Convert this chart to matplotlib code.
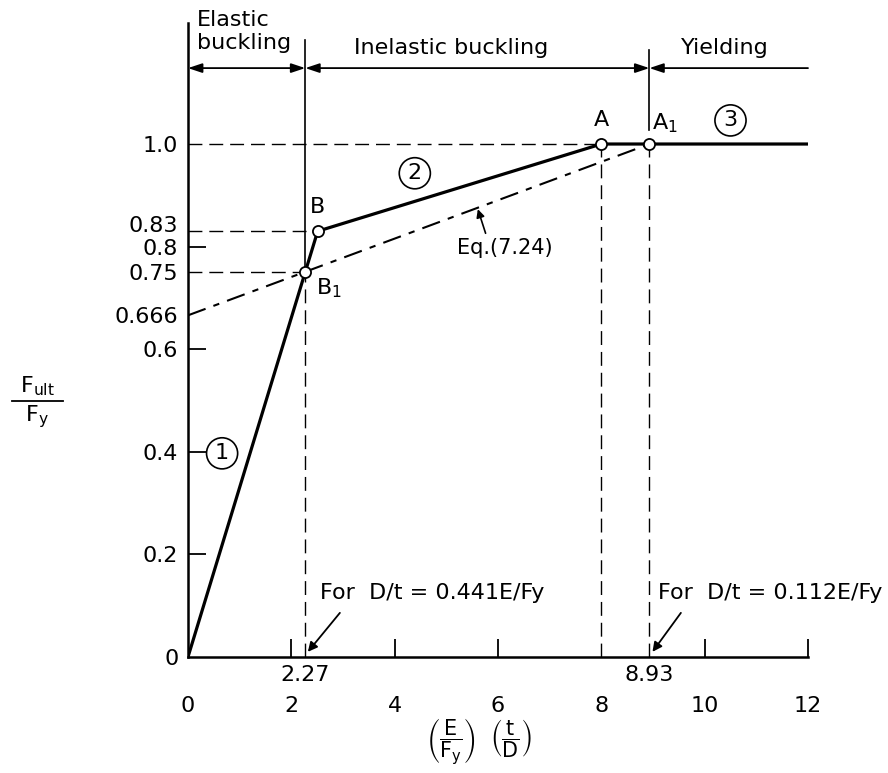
import matplotlib
matplotlib.use("Agg")
import matplotlib.pyplot as plt
import matplotlib.transforms as mtransforms

plt.rcParams["font.family"] = ["DejaVu Sans"]
plt.rcParams["mathtext.fontset"] = "dejavusans"

# ---------------------------------------------
# data
# ---------------------------------------------
curve_x = [0.0, 2.51, 8.0, 12.0]
curve_y = [0.0, 0.83, 1.0, 1.0]

eq_x = [0.0, 8.93]
eq_y = [0.666, 1.0]

point_names = ["B$_1$", "B", "A", "A$_1$"]
point_x = [2.27, 2.51, 8.0, 8.93]
point_y = [0.75, 0.83, 1.0, 1.0]

region_edges = [0.0, 2.27, 8.93, 12.0]
region_names = ["Elastic\nbuckling", "Inelastic buckling", "Yielding"]

ytick_vals = [0, 0.2, 0.4, 0.6, 0.666, 0.75, 0.8, 0.83, 1.0]
ytick_text = ["0", "0.2", "0.4", "0.6", "0.666", "0.75", "0.8", "0.83", "1.0"]
xtick_vals = [0, 2, 4, 6, 8, 10, 12]
inner_xticks = [2, 4, 6, 10, 12]
inner_yticks = [0.2, 0.4, 0.6, 0.8]
limit_x = [2.27, 8.93]
limit_text = ["2.27", "8.93"]
limit_notes = ["For  D/t = 0.441E/Fy", "For  D/t = 0.112E/Fy"]

FS = 16
dash = (0, (10, 5))

fig = plt.figure(figsize=(8.88, 7.73), dpi=100)
ax = fig.add_axes([0.2117, 0.1501, 0.6982, 0.8202])
ax.set_xlim(0, 12)
ax.set_ylim(0, 1.236)

for side in ["top", "right"]:
    ax.spines[side].set_visible(False)
for side in ["left", "bottom"]:
    ax.spines[side].set_linewidth(1.8)

# ticks
ax.xaxis.remove_overlapping_locs = False
ax.yaxis.remove_overlapping_locs = False
ax.set_yticks(ytick_vals)
ax.set_yticklabels(ytick_text, fontsize=FS)
ax.set_yticks(inner_yticks, minor=True)
ax.set_xticks(xtick_vals)
ax.set_xticklabels([str(v) for v in xtick_vals], fontsize=FS)
ax.set_xticks(inner_xticks, minor=True)
ax.tick_params(axis="y", which="major", length=0, pad=7)
ax.tick_params(axis="x", which="major", length=0, pad=28)
ax.tick_params(which="minor", direction="in", length=13, width=1.3)

# 0.83 sits just above 0.8, nudge it up a little
lbl = ax.get_yticklabels()[ytick_text.index("0.83")]
lbl.set_transform(lbl.get_transform() +
                  mtransforms.ScaledTranslation(0, 0.07, fig.dpi_scale_trans))

# guide lines
ax.plot([0, 8.0], [1.0, 1.0], color="black", lw=1.0, ls=dash)
ax.plot([0, 2.51], [0.83, 0.83], color="black", lw=1.0, ls=dash)
ax.plot([0, 2.27], [0.75, 0.75], color="black", lw=1.0, ls=dash)
ax.plot([2.27, 2.27], [0, 0.75], color="black", lw=1.0, ls=dash)
ax.plot([8.0, 8.0], [0, 1.0], color="black", lw=1.0, ls=dash)
ax.plot([8.93, 8.93], [0, 1.0], color="black", lw=1.0, ls=dash)

# region boundaries
ax.plot([2.27, 2.27], [0.75, 1.203], color="black", lw=1.2, clip_on=False)
ax.plot([8.93, 8.93], [1.027, 1.183], color="black", lw=1.2, clip_on=False)

# Eq.(7.24) line
ax.plot(eq_x, eq_y, color="black", lw=1.5, ls=(0, (9, 4, 3, 4)))

# main curve
ax.plot(curve_x, curve_y, color="black", lw=2.3, solid_capstyle="round")

ax.plot(point_x, point_y, "o", ms=8, mfc="white", mec="black", mew=1.3,
        zorder=5)

label_pos = [(2.72, 0.718), (2.51, 0.877), (8.0, 1.047), (9.23, 1.04)]
for name, (lx, ly) in zip(point_names, label_pos):
    ax.text(lx, ly, name, fontsize=FS, ha="center", va="center")

# circled curve numbers
circ = dict(boxstyle="circle,pad=0.25", fc="white", ec="black", lw=1.2)
ax.text(0.66, 0.397, "1", fontsize=FS, ha="center", va="center", bbox=circ)
ax.text(4.39, 0.943, "2", fontsize=FS, ha="center", va="center", bbox=circ)
ax.text(10.5, 1.046, "3", fontsize=FS, ha="center", va="center", bbox=circ)

# Eq. label
ax.annotate("", xy=(5.61, 0.873), xytext=(5.76, 0.826),
            arrowprops=dict(arrowstyle="-|>", color="black", lw=1.2,
                            mutation_scale=12, shrinkA=0, shrinkB=0))
ax.text(6.13, 0.797, "Eq.(7.24)", fontsize=FS - 1, ha="center", va="center")

# region arrows
arrow_y = 1.148
arrow_kw = dict(color="black", lw=1.3, mutation_scale=14,
                shrinkA=0, shrinkB=0)
for i in range(2):
    ax.annotate("", xy=(region_edges[i], arrow_y),
                xytext=(region_edges[i + 1], arrow_y),
                arrowprops=dict(arrowstyle="<|-|>,head_length=0.6,head_width=0.2",
                                **arrow_kw),
                annotation_clip=False)
ax.annotate("", xy=(region_edges[2], arrow_y),
            xytext=(region_edges[3], arrow_y),
            arrowprops=dict(arrowstyle="-|>,head_length=0.6,head_width=0.2",
                            **arrow_kw),
            annotation_clip=False)

ax.text(0.18, 1.219, region_names[0], fontsize=FS, ha="left", va="center",
        linespacing=1.2, clip_on=False)
ax.text(5.09, 1.187, region_names[1], fontsize=FS, ha="center", va="center")
ax.text(10.39, 1.187, region_names[2], fontsize=FS, ha="center", va="center")

# limit values on the x axis
for lx, lt in zip(limit_x, limit_text):
    ax.text(lx, -0.035, lt, fontsize=FS, ha="center", va="center",
            clip_on=False)

ax.text(2.55, 0.125, limit_notes[0], fontsize=FS, ha="left", va="center")
ax.text(9.1, 0.125, limit_notes[1], fontsize=FS, ha="left", va="center",
        clip_on=False)
ax.annotate("", xy=(2.32, 0.01), xytext=(2.94, 0.086),
            arrowprops=dict(arrowstyle="-|>", color="black", lw=1.3,
                            mutation_scale=14, shrinkA=0, shrinkB=0))
ax.annotate("", xy=(8.99, 0.01), xytext=(9.54, 0.086),
            arrowprops=dict(arrowstyle="-|>", color="black", lw=1.3,
                            mutation_scale=14, shrinkA=0, shrinkB=0))

# axis titles
ax.text(5.63, -0.165,
        r"$\left(\dfrac{\mathrm{E}}{\mathrm{F_y}}\right)\ \ \left(\dfrac{\mathrm{t}}{\mathrm{D}}\right)$",
        fontsize=FS - 1, ha="center", va="center", clip_on=False)

fig.text(37 / 888, 1 - 386 / 773, r"$\mathrm{F_{ult}}$",
         fontsize=FS, ha="center", va="center")
fig.text(37 / 888, 1 - 417 / 773, r"$\mathrm{F_y}$",
         fontsize=FS, ha="center", va="center")
fig.add_artist(plt.Line2D([12 / 888, 63 / 888], [1 - 401 / 773, 1 - 401 / 773],
                          color="black", lw=1.3))

fig.savefig("out.png", dpi=100)
